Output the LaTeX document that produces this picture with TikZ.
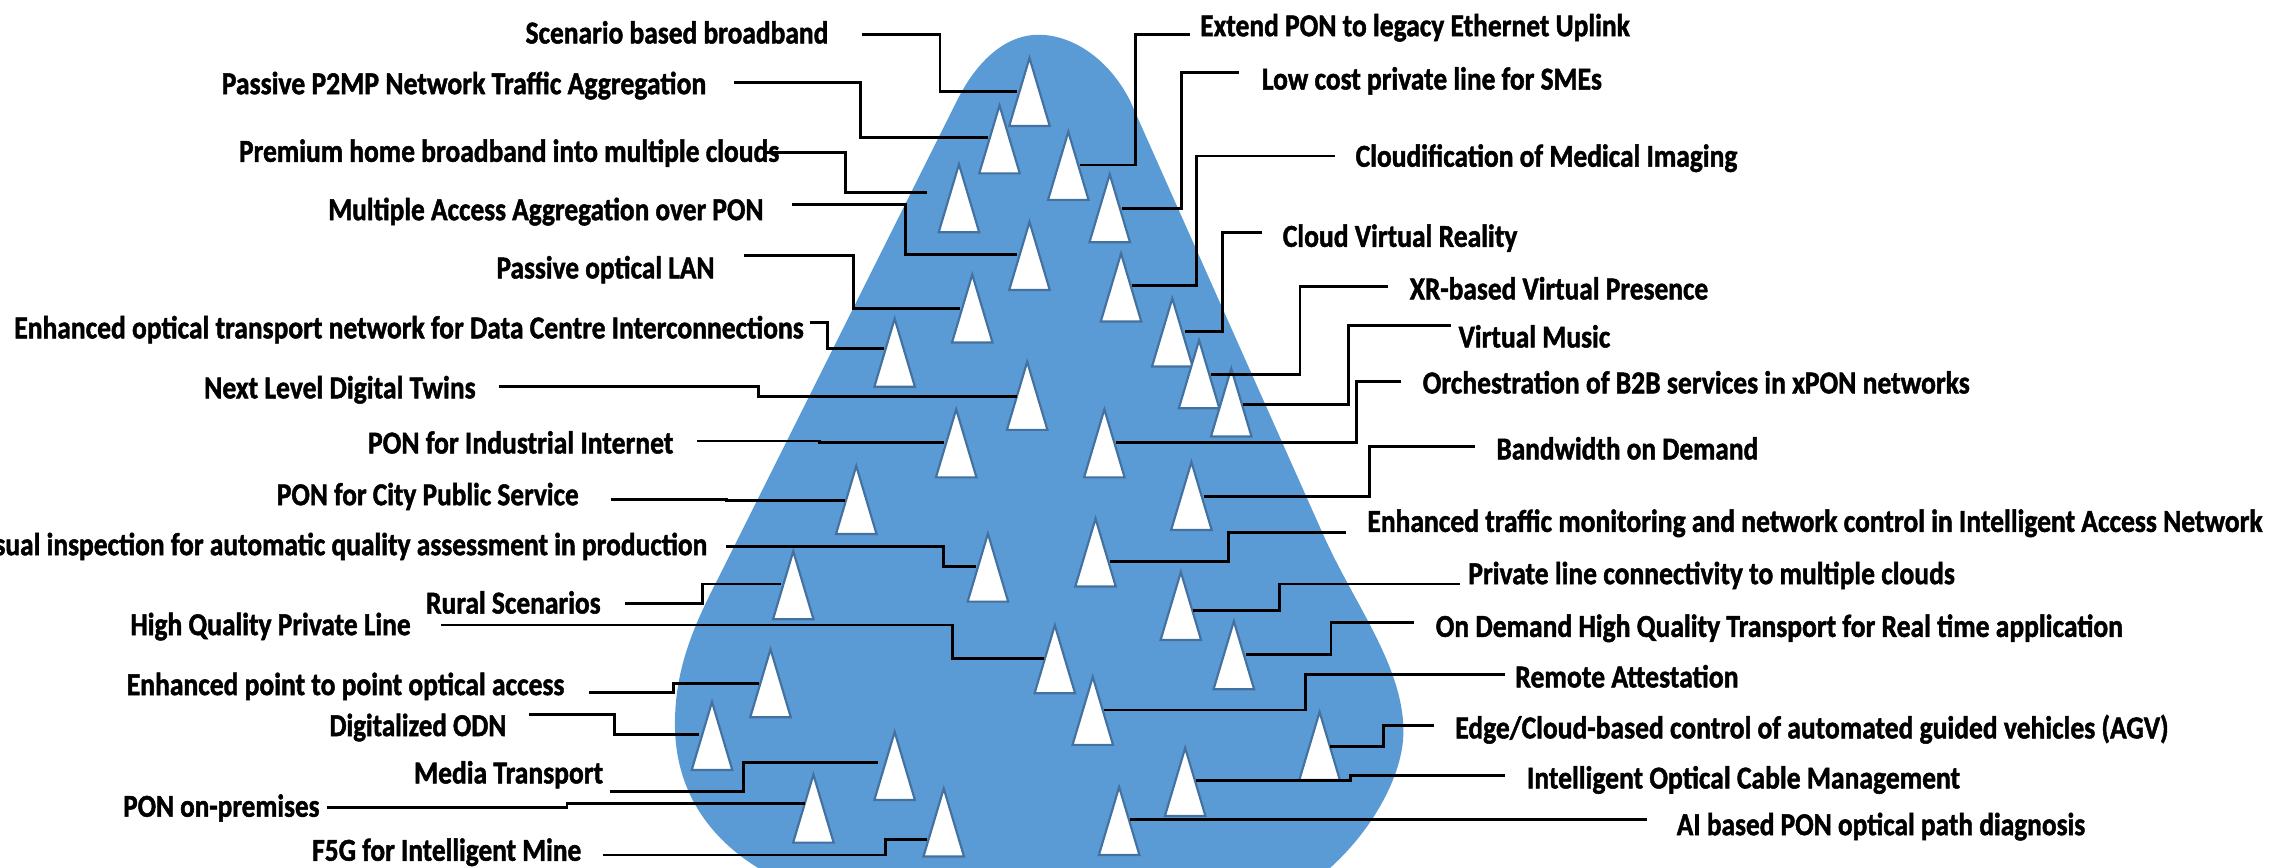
\documentclass[tikz,border=0pt]{standalone}
\usepackage{fontspec}
\setmainfont{Carlito}
\newfontfamily\labfont{Carlito}[BoldFeatures={FakeBold=1.6}]
\usepackage{graphicx}
\definecolor{blobblue}{RGB}{91,155,213}
\definecolor{triedge}{RGB}{68,114,160}
\newcommand\mytri[2]{\draw[tri] (#1-14,#2) -- (#1,#2-47) -- (#1+14,#2) -- cycle;}
\newcommand\llab[5]{\node[lab,anchor=base east] (#1) at (#2,#3) {\resizebox{#4pt}{\height}{#5}};}
\newcommand\rlab[5]{\node[lab,anchor=base west] (#1) at (#2,#3) {\resizebox{#4pt}{\height}{#5}};}
\begin{document}
\begin{tikzpicture}[x=1pt,y=-1pt,
  tri/.style={fill=white,draw=triedge,line width=1.5pt,line join=miter},
  conn/.style={draw=black,line width=2pt},
  lab/.style={inner sep=0pt,font=\labfont\bfseries\fontsize{22}{26}\selectfont}]
\useasboundingbox (0,0) rectangle (1568,599);
\clip (0,0) rectangle (1568,599);
% blob
\fill[blobblue] (548,612) .. controls (492,588) and (466,548) .. (466,500)
  .. controls (466,460) and (480,430) .. (497,397)
  -- (661,69)
  .. controls (675,41) and (695,24) .. (717,24)
  .. controls (740,24) and (765,40) .. (780,69)
  -- (914,370)
  .. controls (935,417) and (969,460) .. (969,505)
  .. controls (969,540) and (940,585) .. (905,610)
  -- cycle;
% triangles (apex x, base y)
\mytri{710.8}{87.0}
\mytri{690.1}{119.7}
\mytri{737.6}{138.0}
\mytri{662.1}{160.4}
\mytri{766.2}{167.3}
\mytri{710.8}{200.2}
\mytri{774.0}{222.0}
\mytri{671.3}{236.5}
\mytri{809.4}{253.0}
\mytri{617.7}{267.0}
\mytri{709.2}{296.8}
\mytri{827.9}{281.9}
\mytri{850.1}{301.4}
\mytri{660.2}{329.6}
\mytri{762.5}{329.6}
\mytri{591.2}{368.7}
\mytri{822.6}{365.9}
\mytri{756.4}{405.0}
\mytri{682.1}{415.4}
\mytri{547.7}{427.6}
\mytri{815.3}{441.9}
\mytri{851.9}{475.9}
\mytri{728.3}{478.7}
\mytri{532.0}{495.2}
\mytri{754.5}{514.3}
\mytri{491.6}{531.6}
\mytri{911.1}{538.5}
\mytri{617.7}{552.3}
\mytri{818.3}{563.4}
\mytri{561.6}{581.8}
\mytri{651.6}{591.4}
\mytri{772.7}{590.3}
% left labels
\llab{l1}{572.1}{30}{209}{Scenario based broadband}
\llab{l2}{487.9}{65}{334.6}{Passive P2MP Network Traffic Aggregation}
\llab{l3}{538.2}{111.7}{373}{Premium home broadband into multiple clouds}
\llab{l4}{527.4}{152}{300.5}{Multiple Access Aggregation over PON}
\llab{l5}{493.5}{192.2}{150.5}{Passive optical LAN}
\llab{l6}{555.1}{233.6}{545}{Enhanced optical transport network for Data Centre Interconnections}
\llab{l7}{328.6}{275}{187.4}{Next Level Digital Twins}
\llab{l8}{465.1}{313.1}{210.8}{PON for Industrial Internet}
\llab{l9}{399.8}{348.8}{208.4}{PON for City Public Service}
\llab{l10}{488.5}{383.3}{508}{Visual inspection for automatic quality assessment in production}
\llab{l11}{414.9}{423.6}{120.5}{Rural Scenarios}
\llab{l12}{283.7}{438.5}{193.4}{High Quality Private Line}
\llab{l13}{389.8}{479.9}{302}{Enhanced point to point optical access}
\llab{l14}{349.7}{508.2}{122}{Digitalized ODN}
\llab{l15}{416.6}{540.9}{130.5}{Media Transport}
\llab{l16}{220.8}{563.9}{135.5}{PON on-premises}
\llab{l17}{401.5}{594.3}{185.7}{F5G for Intelligent Mine}
% right labels
\rlab{r1}{828.5}{25}{296.6}{Extend PON to legacy Ethernet Uplink}
\rlab{r2}{871.1}{61.8}{234.7}{Low cost private line for SMEs}
\rlab{r3}{935.8}{115.1}{263.5}{Cloudification of Medical Imaging}
\rlab{r4}{885.5}{170.4}{161.9}{Cloud Virtual Reality}
\rlab{r5}{973.2}{206.7}{206}{XR-based Virtual Presence}
\rlab{r6}{1006.9}{239.9}{104.7}{Virtual Music}
\rlab{r7}{982.1}{271.6}{377.7}{Orchestration of B2B services in xPON networks}
\rlab{r8}{1033}{317.2}{180.7}{Bandwidth on Demand}
\rlab{r9}{943.9}{367.2}{618}{Enhanced traffic monitoring and network control in Intelligent Access Network}
\rlab{r10}{1013.6}{403.3}{335.9}{Private line connectivity to multiple clouds}
\rlab{r11}{991.1}{439.7}{474.4}{On Demand High Quality Transport for Real time application}
\rlab{r12}{1046}{474.6}{154.2}{Remote Attestation}
\rlab{r13}{1004.6}{509.8}{492.4}{Edge/Cloud-based control of automated guided vehicles (AGV)}
\rlab{r14}{1054.1}{544.4}{299}{Intelligent Optical Cable Management}
\rlab{r15}{1157.5}{576.6}{281.9}{AI based PON optical path diagnosis}
% left connectors
\draw[conn] (595,23.7) -- (649,23.7) -- (649,63.3) -- (702,63.3);
\draw[conn] (507,57.1) -- (594.3,57.1) -- (594.3,95) -- (682,95);
\draw[conn] (529,105.2) -- (583.5,105.2) -- (583.5,133) -- (640,133);
\draw[conn] (547,141.5) -- (625,141.5) -- (625,176) -- (702,176);
\draw[conn] (513.5,176.7) -- (589,176.7) -- (589,212.8) -- (663,212.8);
\draw[conn] (559,222.7) -- (571.5,222.7) -- (571.5,240.5) -- (610,240.5);
\draw[conn] (344.6,266.9) -- (523.4,266.9) -- (523.4,273.8) -- (702,273.8);
\draw[conn] (481.5,304.5) -- (565.9,304.5) -- (565.9,305.6) -- (651.5,305.6);
\draw[conn] (421.6,344.6) -- (501.8,344.6) -- (501.8,345.3) -- (583.5,345.3);
\draw[conn] (501.5,377.4) -- (651.3,377.4) -- (651.3,391.2) -- (674,391.2);
\draw[conn] (431.6,416.6) -- (485.2,416.6) -- (485.2,403.2) -- (539.5,403.2);
\draw[conn] (304.5,431.5) -- (657.8,431.5) -- (657.8,454.5) -- (720.5,454.5);
\draw[conn] (406.5,478.2) -- (465,478.2) -- (465,471.8) -- (524,471.8);
\draw[conn] (365.4,493.6) -- (424.3,493.6) -- (424.3,507.4) -- (482.5,507.4);
\draw[conn] (420.9,546.3) -- (513.5,546.3) -- (513.5,526.3) -- (606,526.3);
\draw[conn] (225.9,557.6) -- (391.5,557.6) -- (391.5,554.6) -- (556,554.6);
\draw[conn] (416.6,590.3) -- (611.2,590.3) -- (611.2,579.5) -- (640,579.5);
% right connectors
\draw[conn] (821.7,23.7) -- (784.1,23.7) -- (784.1,113.9) -- (746,113.9);
\draw[conn] (855.6,50.2) -- (815.6,50.2) -- (815.6,143.8) -- (774.5,143.8);
\draw[conn] (921.9,107.7) -- (826.4,107.7) -- (826.4,197.4) -- (781.5,197.4);
\draw[conn] (871,160.6) -- (844.2,160.6) -- (844.2,229) -- (818,229);
\draw[conn] (958.3,197.9) -- (897.6,197.9) -- (897.6,258.5) -- (836,258.5);
\draw[conn] (1001.5,224.8) -- (930.8,224.8) -- (930.8,279.4) -- (858.2,279.4);
\draw[conn] (967.3,263.5) -- (936.3,263.5) -- (936.3,305.6) -- (770.6,305.6);
\draw[conn] (1018.1,308.4) -- (945.3,308.4) -- (945.3,342.5) -- (831,342.5);
\draw[conn] (929.5,367.8) -- (847.9,367.8) -- (847.9,387.8) -- (766.5,387.8);
\draw[conn] (1007.8,403.2) -- (883.3,403.2) -- (883.3,421.5) -- (823.5,421.5);
\draw[conn] (976.3,429.9) -- (919,429.9) -- (919,451.8) -- (860,451.8);
\draw[conn] (1039.2,466) -- (901.2,466) -- (901.2,490.2) -- (762.2,490.2);
\draw[conn] (990.2,501) -- (955.2,501) -- (955.2,515.5) -- (918.6,515.5);
\draw[conn] (1039.2,535.7) -- (932.7,535.7) -- (932.7,539) -- (826,539);
\draw[conn] (1137.3,565.7) -- (958.3,565.7) -- (958.3,566.1) -- (780.2,566.1);
\end{tikzpicture}
\end{document}
